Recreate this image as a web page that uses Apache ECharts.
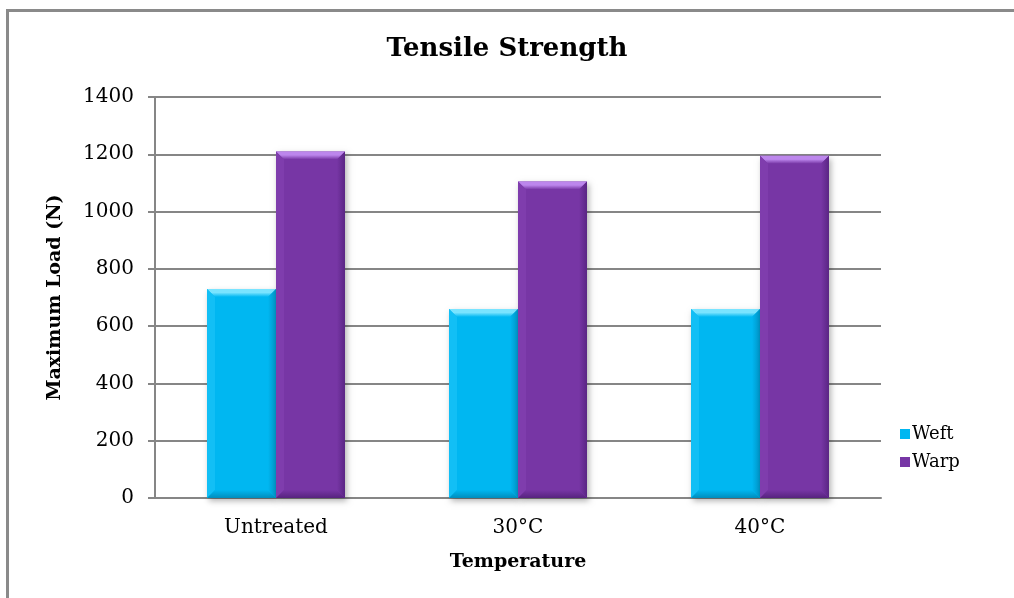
<!DOCTYPE html>
<html>
<head>
<meta charset="utf-8">
<script src="https://cdn.jsdelivr.net/npm/echarts@6/dist/echarts.min.js"></script>
<style>
  html, body { margin: 0; padding: 0; background: #fff; }
  #chart { width: 1014px; height: 598px; }
</style>
</head>
<body>
<div id="chart"></div>
<script>
// Tensile strength of fabric samples, weft vs warp direction
const categories = ['Untreated', '30°C', '40°C'];
const weftValues = [730, 660, 660];
const warpValues = [1210, 1105, 1195];
const seriesNames = ['Weft', 'Warp'];
const yTicks = { min: 0, max: 1400, interval: 200 };

const SERIF = "'DejaVu Serif', serif";

// Palette for each bar: face, top/left highlight, right/bottom shade
const palettes = [
  { face: '#00B7F1', top: '#7AE4FF', left: '#12BFF5', right: '#0096C9', bottom: '#008DBD' },
  { face: '#7736A5', top: '#BC86EC', left: '#7F3DAD', right: '#5A2584', bottom: '#57237F' }
];

// Bevelled bar, positioned through the axis coordinate system
function renderBevelBar(params, api) {
  const cat = api.value(0);
  const val = api.value(1);
  const base = api.coord([cat, 0]);
  const top = api.coord([cat, val]);
  const band = api.size([1, 0])[0];
  const w = band * 0.285;
  const x0 = params.seriesIndex === 0 ? base[0] - w : base[0];
  const x1 = x0 + w;
  const y0 = top[1];
  const y1 = base[1];
  const b = 8;
  const p = palettes[params.seriesIndex];
  return {
    type: 'group',
    children: [
      { type: 'rect', shape: { x: x0, y: y0, width: w, height: y1 - y0 },
        style: { fill: p.face, shadowBlur: 6, shadowOffsetX: 2, shadowOffsetY: 3, shadowColor: 'rgba(0,0,0,0.3)' } },
      { type: 'polygon', shape: { points: [[x0, y0], [x1, y0], [x1 - b, y0 + b], [x0 + b, y0 + b]] },
        style: { fill: {
          type: 'linear', x: 0, y: 0, x2: 0, y2: 1,
          colorStops: [{ offset: 0, color: p.top }, { offset: 0.45, color: p.top }, { offset: 1, color: p.face }]
        } } },
      { type: 'polygon', shape: { points: [[x0, y0], [x0 + b, y0 + b], [x0 + b, y1 - b], [x0, y1]] },
        style: { fill: p.left } },
      { type: 'polygon', shape: { points: [[x1, y0], [x1, y1], [x1 - b, y1 - b], [x1 - b, y0 + b]] },
        style: { fill: {
          type: 'linear', x: 0, y: 0, x2: 1, y2: 0,
          colorStops: [{ offset: 0, color: p.face }, { offset: 1, color: p.right }]
        } } },
      { type: 'polygon', shape: { points: [[x0, y1], [x0 + b, y1 - b], [x1 - b, y1 - b], [x1, y1]] },
        style: { fill: {
          type: 'linear', x: 0, y: 0, x2: 0, y2: 1,
          colorStops: [{ offset: 0, color: p.face }, { offset: 1, color: p.bottom }]
        } } }
    ]
  };
}

const chart = echarts.init(document.getElementById('chart'));
chart.setOption({
  backgroundColor: '#ffffff',
  animation: false,
  graphic: [{
    type: 'rect', left: 5, top: 8, z: -10,
    shape: { width: 1040, height: 620 },
    style: { fill: 'none', stroke: '#8a8a8a', lineWidth: 3 }
  }],
  title: {
    text: 'Tensile Strength',
    left: 'center', top: 31,
    textStyle: { fontFamily: SERIF, fontSize: 26, fontWeight: 'bold', color: '#000' }
  },
  legend: {
    orient: 'vertical', left: 895, top: 420,
    itemWidth: 10, itemHeight: 10, itemGap: 10,
    icon: 'rect',
    data: seriesNames,
    textStyle: { fontFamily: SERIF, fontSize: 18, color: '#000', padding: [0, 0, 0, -3] }
  },
  grid: { left: 155, right: 133, top: 97, bottom: 100 },
  xAxis: {
    type: 'category',
    data: categories,
    name: 'Temperature',
    nameLocation: 'middle',
    nameGap: 55,
    nameTextStyle: { fontFamily: SERIF, fontSize: 19, fontWeight: 'bold', color: '#000' },
    axisLine: { lineStyle: { color: '#868686', width: 2 } },
    axisTick: { show: false },
    axisLabel: { fontFamily: SERIF, fontSize: 20, color: '#000', margin: 20 }
  },
  yAxis: {
    type: 'value',
    min: yTicks.min, max: yTicks.max, interval: yTicks.interval,
    name: 'Maximum Load (N)',
    nameLocation: 'middle',
    nameGap: 90,
    nameRotate: 90,
    nameTextStyle: { fontFamily: SERIF, fontSize: 19, fontWeight: 'bold', color: '#000' },
    axisLine: { show: true, lineStyle: { color: '#868686', width: 2 } },
    axisTick: { show: true, length: 7, inside: false, lineStyle: { color: '#868686', width: 2 } },
    axisLabel: { fontFamily: SERIF, fontSize: 20, color: '#000', margin: 21, formatter: v => String(v) },
    splitLine: { lineStyle: { color: '#868686', width: 2 } }
  },
  series: [
    { name: seriesNames[0], type: 'custom', renderItem: renderBevelBar,
      itemStyle: { color: palettes[0].face },
      data: weftValues.map((v, i) => [i, v]), encode: { x: 0, y: 1 } },
    { name: seriesNames[1], type: 'custom', renderItem: renderBevelBar,
      itemStyle: { color: palettes[1].face },
      data: warpValues.map((v, i) => [i, v]), encode: { x: 0, y: 1 } }
  ]
});
</script>
</body>
</html>
